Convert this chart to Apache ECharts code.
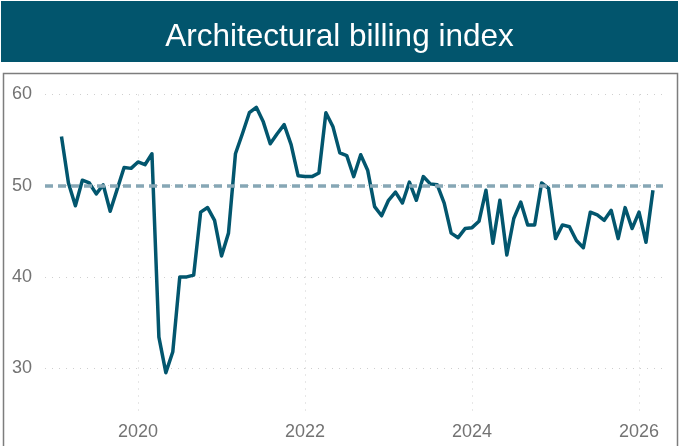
<!DOCTYPE html>
<html>
<head>
<meta charset="utf-8">
<script src="https://cdn.jsdelivr.net/npm/echarts@6/dist/echarts.min.js"></script>
<style>
html, body { margin: 0; padding: 0; background: #fff; }
#main { width: 679px; height: 446px; }
</style>
</head>
<body>
<div id="main"></div>
<script>
// monthly index values, one array per year (Jan..Dec)
var abi2019 = [55.4, 50.3, 47.8, 50.6, 50.3, 49.1, 50.1, 47.2, 49.6, 52.0, 51.9, 52.6];
var abi2020 = [52.3, 53.5, 33.4, 29.5, 31.8, 40.0, 40.0, 40.2, 47.1, 47.6, 46.2, 42.3];
var abi2021 = [44.8, 53.5, 55.7, 58.0, 58.6, 57.0, 54.6, 55.7, 56.7, 54.5, 51.1, 51.0];
var abi2022 = [51.0, 51.4, 58.0, 56.5, 53.6, 53.3, 51.0, 53.4, 51.7, 47.7, 46.7, 48.4];
var abi2023 = [49.3, 48.1, 50.4, 48.4, 51.0, 50.2, 50.1, 48.1, 44.8, 44.3, 45.3, 45.4];
var abi2024 = [46.1, 49.5, 43.7, 48.4, 42.4, 46.4, 48.2, 45.7, 45.7, 50.3, 49.7, 44.2];
var abi2025 = [45.7, 45.5, 44.0, 43.2, 47.1, 46.8, 46.2, 47.3, 44.2, 47.6, 45.3, 47.1];
var abi2026 = [43.8, 49.5];

var years = [2019, 2020, 2021, 2022, 2023, 2024, 2025, 2026];
var yearValues = [abi2019, abi2020, abi2021, abi2022, abi2023, abi2024, abi2025, abi2026];

var xTicks = [2020, 2022, 2024, 2026];
var yTicks = [30, 40, 50, 60];
var refLevel = 50;

/**
 * month-end points as [fractional year, value]
 */
function buildData() {
	var out = [];
	for (var i = 0; i < years.length; i++) {
		var vals = yearValues[i];
		for (var m = 0; m < vals.length; m++) {
			out.push([years[i] + (m + 1) / 12, vals[m]]);
		}
	}
	return out;
}

var font = 'Liberation Sans, Arial, sans-serif';
var gridLine = { show: true, lineStyle: { color: '#cfcfcf', width: 1, type: [1, 6] } };

var option = {
	animation: false,
	title: {
		text: 'Architectural billing index',
		left: 'center',
		top: 16,
		textStyle: { color: '#ffffff', fontSize: 31.5, fontWeight: 'normal', fontFamily: font }
	},
	graphic: [{
		type: 'rect',
		z: -10,
		shape: { x: 1, y: 1, width: 677, height: 61 },
		style: { fill: '#02556d' }
	}, {
		type: 'rect',
		z: -10,
		shape: { x: 3.5, y: 73.5, width: 674, height: 400 },
		style: { fill: 'none', stroke: '#7d7d7d', lineWidth: 1.5 }
	}],
	grid: { left: 45, right: 16, top: 94.5, bottom: 32.3 },
	xAxis: {
		type: 'value',
		min: 2018.886,
		max: 2026.287,
		axisLine: { show: false },
		axisTick: { show: false, customValues: xTicks },
		axisLabel: {
			customValues: xTicks,
			color: '#737373',
			fontSize: 18,
			fontFamily: font,
			margin: 9,
			formatter: function(v) { return String(v); }
		},
		splitLine: gridLine
	},
	yAxis: {
		type: 'value',
		min: 25,
		max: 60,
		axisLine: { show: false },
		axisTick: { show: false, customValues: yTicks },
		axisLabel: {
			customValues: yTicks,
			color: '#737373',
			fontSize: 18,
			fontFamily: font,
			margin: 13
		},
		splitLine: gridLine
	},
	series: [{
		type: 'line',
		data: buildData(),
		symbol: 'none',
		lineStyle: { color: '#02566e', width: 3.5, join: 'round' },
		markLine: {
			silent: true,
			symbol: 'none',
			label: { show: false },
			lineStyle: { color: '#86a7b5', width: 3.5, type: [8, 5] },
			data: [{ yAxis: refLevel }]
		},
		z: 3
	}]
};

var myChart = echarts.init(document.getElementById('main'));
myChart.setOption(option);
</script>
</body>
</html>
